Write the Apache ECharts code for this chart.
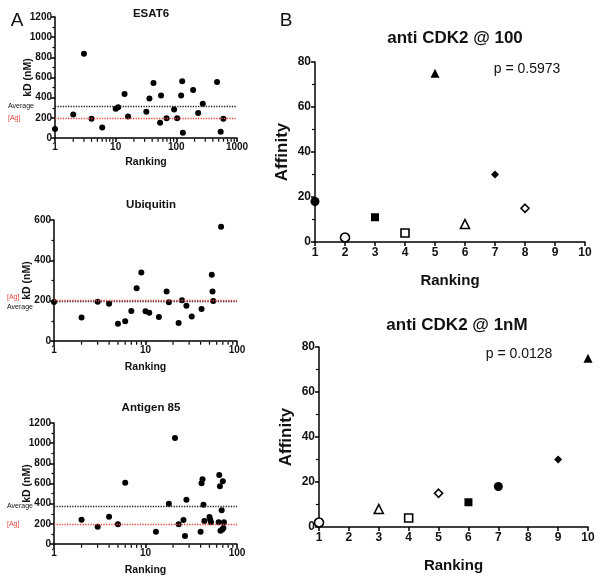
<!DOCTYPE html>
<html>
<head>
<meta charset="utf-8">
<script src="https://cdn.jsdelivr.net/npm/echarts@6/dist/echarts.min.js"></script>
<style>
  html, body { margin: 0; padding: 0; background: #fff; }
  #chart { width: 602px; height: 581px; }
</style>
</head>
<body>
<div id="chart"></div>
<script>
// panel A data (ranking vs kD)
var esatRank = [1, 2, 3, 4, 6, 10, 11, 14, 16, 32, 36, 42, 54, 56, 69, 92, 103, 120, 125, 128, 189, 229, 273, 469, 538, 596];
var esatKd = [89, 233, 835, 191, 105, 289, 306, 437, 214, 260, 391, 546, 151, 421, 197, 283, 197, 421, 562, 53, 477, 247, 339, 556, 62, 191];
var ubiRank = [1, 2, 3, 4, 5, 6, 7, 8, 9, 10, 11, 14, 17, 18, 23, 25, 28, 32, 41, 53, 54, 55, 67];
var ubiKd = [193, 116, 195, 185, 86, 98, 149, 261, 340, 147, 140, 119, 246, 192, 89, 202, 175, 122, 159, 329, 246, 198, 567];
var ag85Rank = [2, 3, 4, 5, 6, 13, 18, 21, 23, 26, 27, 28, 40, 41, 42, 43, 44, 50, 51, 52, 64, 63, 65, 66, 69, 68, 70, 72, 71];
var ag85Kd = [241, 172, 271, 195, 608, 122, 400, 1051, 195, 238, 79, 440, 122, 602, 641, 390, 228, 268, 241, 215, 684, 215, 572, 132, 145, 334, 622, 215, 159];
var esatAvg = 312, ubiAvg = 197, ag85Avg = 374, agConc = 200;
var logMinorTicks = [2, 3, 4, 5, 6, 7, 8, 9, 20, 30, 40, 50, 60, 70, 80, 90, 200, 300, 400, 500, 600, 700, 800, 900];

// panel B data (same 8 antibodies, two rankings)
var cdkAffinity = [18, 2, 11, 4, 75, 8, 30, 15];
var rankAt100 = [1, 2, 3, 4, 5, 6, 7, 8];
var rankAt1nM = [7, 1, 6, 4, 10, 3, 9, 5];
var markerShape = ['circle', 'circle', 'rect', 'rect', 'triangle', 'triangle', 'diamond', 'diamond'];
var markerFilled = [true, false, true, false, true, false, true, false];
var markerSize = [9, 9, 8, 8, 9, 9, 8, 8];

var FONT = 'Liberation Sans, Arial, sans-serif';
var RED = '#e8453c';

var myChart = echarts.init(document.getElementById('chart'));

function pair(xs, ys) {
  return xs.map(function (x, i) { return [x, ys[i]]; });
}
function plain(v) { return String(v); }

var axisLine = { lineStyle: { color: '#000', width: 1.5 } };
var axisTick = { inside: false, length: 4, lineStyle: { color: '#000', width: 1.5 } };
var minorTick = { show: true, splitNumber: 2, length: 2.5, lineStyle: { color: '#000', width: 1.2 } };

function logX(idx, max, gap) {
  return {
    type: 'log', logBase: 10, gridIndex: idx, min: 1, max: max,
    name: 'Ranking', nameLocation: 'middle', nameGap: gap,
    nameTextStyle: { fontFamily: FONT, fontWeight: 'bold', fontSize: 10.5, color: '#111' },
    axisLine: axisLine, axisTick: axisTick, splitLine: { show: false },
    axisLabel: { fontFamily: FONT, fontWeight: 'bold', fontSize: 10, color: '#111', margin: 4, formatter: plain }
  };
}
function kdY(idx, max, interval) {
  return {
    type: 'value', gridIndex: idx, min: 0, max: max, interval: interval,
    name: 'kD (nM)', nameLocation: 'middle', nameGap: 21, nameMoveOverlap: false,
    nameTextStyle: { fontFamily: FONT, fontWeight: 'bold', fontSize: 10.5, color: '#111' },
    axisLine: { show: true, lineStyle: { color: '#000', width: 1.5 } },
    axisTick: { show: true, length: 4, lineStyle: { color: '#000', width: 1.5 } },
    minorTick: minorTick, splitLine: { show: false },
    axisLabel: { fontFamily: FONT, fontWeight: 'bold', fontSize: 10, color: '#111', margin: 3, formatter: plain }
  };
}
function rankX(idx) {
  return {
    type: 'value', gridIndex: idx, min: 1, max: 10, interval: 1,
    name: 'Ranking', nameLocation: 'middle', nameGap: 31,
    nameTextStyle: { fontFamily: FONT, fontWeight: 'bold', fontSize: 15, color: '#111' },
    axisLine: axisLine, axisTick: axisTick, splitLine: { show: false },
    axisLabel: { fontFamily: FONT, fontWeight: 'bold', fontSize: 12, color: '#111', margin: 5 }
  };
}
function affY(idx) {
  return {
    type: 'value', gridIndex: idx, min: 0, max: 80, interval: 20,
    name: 'Affinity', nameLocation: 'middle', nameGap: 24,
    nameTextStyle: { fontFamily: FONT, fontWeight: 'bold', fontSize: 17, color: '#111' },
    axisLine: { show: true, lineStyle: { color: '#000', width: 1.5 } },
    axisTick: { show: true, length: 4, lineStyle: { color: '#000', width: 1.5 } },
    minorTick: { show: true, splitNumber: 2, length: 3, lineStyle: { color: '#000', width: 1.2 } },
    splitLine: { show: false },
    axisLabel: { fontFamily: FONT, fontWeight: 'bold', fontSize: 12, color: '#111', margin: 4 }
  };
}

// reference lines; their labels sit left-aligned at the page margin
function refLines(avg, avgOffset, agOffset) {
  var lbl = { show: true, position: 'start', distance: 47, align: 'left', fontFamily: FONT, fontSize: 7 };
  return {
    silent: true, symbol: ['none', 'none'],
    data: [
      { yAxis: avg, lineStyle: { color: '#222', type: 'dotted', width: 1.3 },
        label: Object.assign({}, lbl, { formatter: 'Average', color: '#111', offset: avgOffset }) },
      { yAxis: agConc, lineStyle: { color: RED, type: 'dotted', width: 1.3 },
        label: Object.assign({}, lbl, { formatter: '[Ag]', color: RED, offset: agOffset }) }
    ]
  };
}

function kdSeries(idx, xs, ys, avg, avgOffset, agOffset) {
  return {
    type: 'scatter', xAxisIndex: idx, yAxisIndex: idx, symbol: 'circle', symbolSize: 6,
    clip: false, z: 3, itemStyle: { color: '#000', opacity: 1 }, data: pair(xs, ys),
    markLine: refLines(avg, avgOffset, agOffset)
  };
}
function minorLogSeries(idx, max) {
  return {
    type: 'scatter', xAxisIndex: idx, yAxisIndex: idx, silent: true, clip: false,
    symbol: 'rect', symbolSize: [1.2, 3], symbolOffset: [0, 2.2], z: 1,
    itemStyle: { color: '#000', opacity: 1 },
    data: logMinorTicks.filter(function (v) { return v < max; }).map(function (v) { return [v, 0]; })
  };
}
function cdkSeries(idx, ranks) {
  return {
    type: 'scatter', xAxisIndex: idx, yAxisIndex: idx, clip: false, z: 3,
    data: ranks.map(function (r, i) {
      return {
        value: [r, cdkAffinity[i]], symbol: markerShape[i], symbolSize: markerSize[i],
        itemStyle: markerFilled[i]
          ? { color: '#000', opacity: 1 }
          : { color: '#fff', borderColor: '#000', borderWidth: 1.6, opacity: 1 }
      };
    })
  };
}

function ttl(text, left, top, size, weight) {
  return { text: text, left: left, top: top, textAlign: 'center',
    textStyle: { fontFamily: FONT, fontWeight: weight || 'bold', fontSize: size, color: '#111' } };
}

myChart.setOption({
  backgroundColor: '#fff',
  animation: false,
  title: [
    ttl('A', 12, 6, 19, 'normal'),
    ttl('B', 281, 6, 19, 'normal'),
    ttl('ESAT6', 146, 3, 11.5),
    ttl('Ubiquitin', 146, 194, 11.5),
    ttl('Antigen 85', 146, 397, 11.5),
    ttl('anti CDK2 @ 100', 450, 25, 17),
    ttl('p = 0.5973', 522, 57, 14, 'normal'),
    ttl('anti CDK2 @ 1nM', 452, 312, 17),
    ttl('p = 0.0128', 514, 342, 14, 'normal')
  ],
  grid: [
    { left: 55, top: 17, width: 182, height: 121 },
    { left: 54, top: 220, width: 183, height: 121 },
    { left: 54, top: 423, width: 183, height: 121 },
    { left: 315, top: 62, width: 270, height: 180 },
    { left: 319, top: 347, width: 269, height: 180 }
  ],
  xAxis: [logX(0, 1000, 19), logX(1, 100, 21), logX(2, 100, 21), rankX(3), rankX(4)],
  yAxis: [kdY(0, 1200, 200), kdY(1, 600, 200), kdY(2, 1200, 200), affY(3), affY(4)],
  series: [
    kdSeries(0, esatRank, esatKd, esatAvg, [0, 0], [0, 0]),
    kdSeries(1, ubiRank, ubiKd, ubiAvg, [0, 6], [0, -4]),
    kdSeries(2, ag85Rank, ag85Kd, ag85Avg, [0, 0], [0, 0]),
    minorLogSeries(0, 1000),
    minorLogSeries(1, 100),
    minorLogSeries(2, 100),
    cdkSeries(3, rankAt100),
    cdkSeries(4, rankAt1nM)
  ]
});
</script>
</body>
</html>
